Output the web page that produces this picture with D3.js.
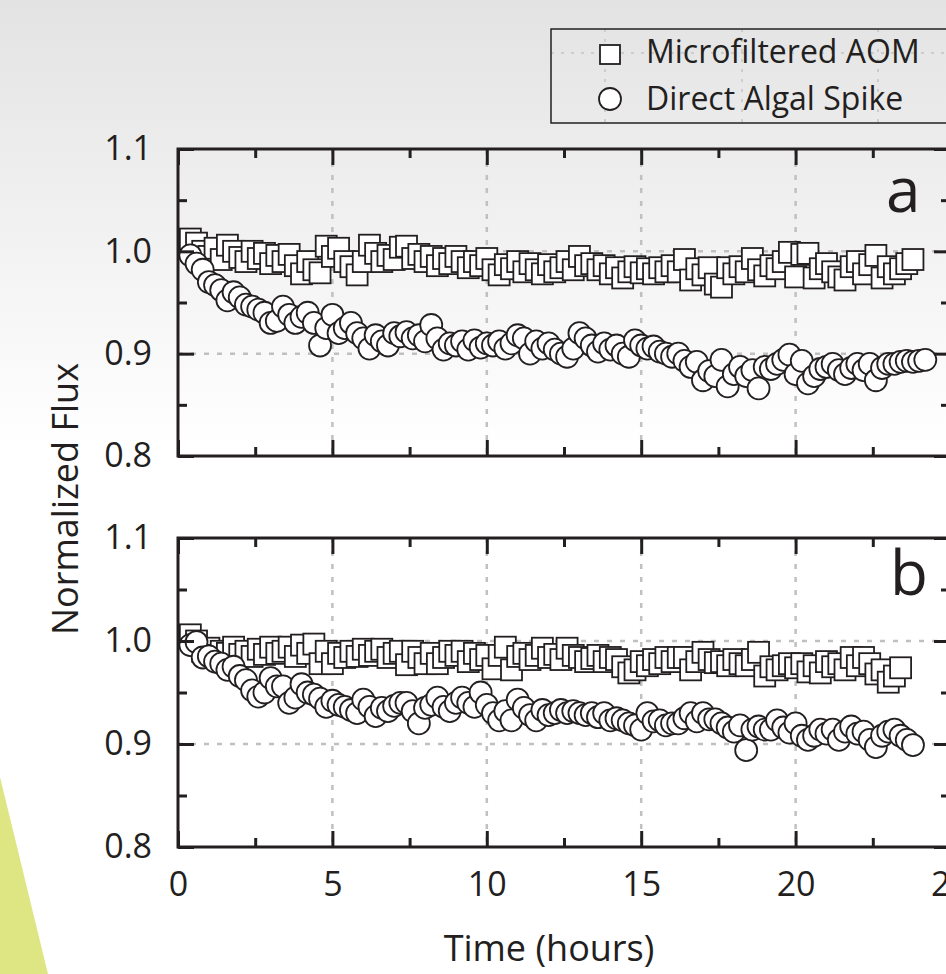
<!DOCTYPE html>
<html lang="en">
<head>
  <meta charset="utf-8">
  <title>Normalized Flux</title>
  <script src="https://cdn.jsdelivr.net/npm/d3@7/dist/d3.min.js"></script>
  <style>
    html, body { margin: 0; padding: 0; overflow: hidden; background: #fff; }
    svg { display: block; font-family: "Open Sans", sans-serif; }
  </style>
</head>
<body>
<script>
  // sampling times (hours), one reading every 12 min
  var hours = [0.4,0.6,0.8,1,1.2, 1.4,1.6,1.8,2,2.2, 2.4,2.6,2.8,3,3.2, 3.4,3.6,3.8,4,4.2,
    4.4,4.6,4.8,5,5.2, 5.4,5.6,5.8,6,6.2, 6.4,6.6,6.8,7,7.2, 7.4,7.6,7.8,8,8.2,
    8.4,8.6,8.8,9,9.2, 9.4,9.6,9.8,10,10.2, 10.4,10.6,10.8,11,11.2, 11.4,11.6,11.8,12,12.2,
    12.4,12.6,12.8,13,13.2, 13.4,13.6,13.8,14,14.2, 14.4,14.6,14.8,15,15.2, 15.4,15.6,15.8,16,16.2,
    16.4,16.6,16.8,17,17.2, 17.4,17.6,17.8,18,18.2, 18.4,18.6,18.8,19,19.2, 19.4,19.6,19.8,20,20.2,
    20.4,20.6,20.8,21,21.2, 21.4,21.6,21.8,22,22.2, 22.4,22.6,22.8,23,23.2, 23.4,23.6,23.8,24,24.2];

  // panel a
  var squaresA = [1.012,1.008,1.0,0.995,1.003, 0.992,1.006,1.0,0.994,0.99, 1.0,0.993,0.998,0.988,0.996,
    0.99,0.997,0.986,0.978,0.99, 0.982,0.979,1.005,0.995,1.003, 0.99,0.985,0.977,0.99,1.006,
    0.998,0.99,0.996,0.992,1.004, 1.005,0.993,0.997,0.99,0.995, 0.986,0.993,0.988,0.995,0.99,
    0.984,0.99,0.986,0.993,0.982, 0.977,0.987,0.983,0.99,0.98, 0.988,0.982,0.978,0.987,0.98,
    0.984,0.99,0.982,0.995,0.986, 0.988,0.982,0.986,0.978,0.984, 0.974,0.98,0.985,0.979,0.983,
    0.978,0.984,0.98,0.986,0.98, 0.992,0.972,0.983,0.977,0.984, 0.968,0.965,0.984,0.978,0.985,
    0.98,0.993,0.982,0.976,0.986, 0.983,0.99,0.999,0.975,0.997, 0.998,0.974,0.983,0.988,0.98,
    0.975,0.972,0.985,0.99,0.978, 0.987,0.996,0.974,0.985,0.978, 0.983,0.988,0.992];
  var circlesA = [0.996,0.988,0.982,0.97,0.967, 0.962,0.952,0.96,0.955,0.948, 0.946,0.943,0.94,0.93,0.932,
    0.946,0.938,0.93,0.936,0.94, 0.93,0.908,0.925,0.938,0.92, 0.925,0.93,0.92,0.915,0.905,
    0.918,0.912,0.908,0.92,0.917, 0.921,0.915,0.918,0.912,0.928, 0.915,0.904,0.91,0.908,0.912,
    0.904,0.913,0.906,0.91,0.908, 0.912,0.905,0.91,0.918,0.915, 0.9,0.912,0.905,0.91,0.904,
    0.9,0.897,0.905,0.92,0.915, 0.908,0.902,0.91,0.904,0.908, 0.9,0.897,0.913,0.908,0.905,
    0.907,0.902,0.9,0.897,0.9, 0.893,0.887,0.892,0.874,0.883, 0.878,0.894,0.868,0.88,0.887,
    0.878,0.884,0.866,0.887,0.885, 0.89,0.894,0.899,0.88,0.893, 0.871,0.878,0.885,0.887,0.89,
    0.884,0.88,0.886,0.89,0.884, 0.89,0.874,0.886,0.89,0.89, 0.892,0.893,0.892,0.893,0.894];

  // panel b
  var squaresB = [1.006,1.0,0.99,0.993,0.986, 0.99,0.988,0.994,0.987,0.99, 0.985,0.992,0.987,0.994,0.988,
    0.99,0.994,0.985,0.996,0.988, 0.997,0.978,0.99,0.978,0.988, 0.984,0.99,0.985,0.992,0.986,
    0.99,0.992,0.984,0.988,0.99, 0.977,0.99,0.984,0.978,0.988, 0.978,0.984,0.99,0.986,0.99,
    0.98,0.988,0.982,0.986,0.973, 0.986,0.994,0.972,0.985,0.988, 0.982,0.986,0.993,0.984,0.987,
    0.982,0.993,0.986,0.984,0.98, 0.983,0.986,0.98,0.984,0.982, 0.975,0.969,0.972,0.98,0.976,
    0.982,0.978,0.984,0.98,0.984, 0.984,0.972,0.98,0.989,0.982, 0.979,0.98,0.976,0.982,0.978,
    0.976,0.982,0.989,0.966,0.975, 0.972,0.976,0.978,0.974,0.978, 0.97,0.976,0.969,0.98,0.975,
    0.978,0.972,0.984,0.976,0.984, 0.978,0.968,0.972,0.96,0.966, 0.974];
  var circlesB = [0.996,0.999,0.984,0.985,0.98, 0.978,0.972,0.975,0.966,0.962, 0.952,0.946,0.95,0.964,0.956,
    0.956,0.94,0.945,0.958,0.95, 0.948,0.944,0.936,0.942,0.938, 0.936,0.933,0.93,0.943,0.936,
    0.927,0.935,0.932,0.937,0.94, 0.94,0.932,0.92,0.935,0.938, 0.945,0.936,0.932,0.94,0.945,
    0.94,0.936,0.95,0.938,0.93, 0.923,0.932,0.923,0.943,0.935, 0.928,0.923,0.933,0.928,0.93,
    0.933,0.93,0.932,0.93,0.928, 0.93,0.926,0.93,0.923,0.925, 0.923,0.92,0.918,0.914,0.93,
    0.922,0.923,0.918,0.92,0.92, 0.925,0.93,0.922,0.93,0.924, 0.924,0.92,0.916,0.912,0.918,
    0.894,0.914,0.917,0.914,0.914, 0.923,0.916,0.911,0.92,0.908, 0.904,0.908,0.914,0.91,0.914,
    0.904,0.912,0.917,0.91,0.912, 0.904,0.897,0.908,0.912,0.914, 0.908,0.904,0.899];

  var xMajor = [0, 5, 10, 15, 20, 25];
  var xMinor = [2.5, 7.5, 12.5, 17.5, 22.5];
  var yMajor = [0.8, 0.9, 1.0, 1.1];
  var yMinor = [0.85, 0.95, 1.05];
  var legendLabels = ["Microfiltered AOM", "Direct Algal Spike"];

  var width = 946;
  var height = 974;
  var ink = "#231f20";

  var svg = d3.select("body")
    .append("svg")
    .attr("width", width)
    .attr("height", height);

  // page background: grey fading to white, plus the green wedge
  var grad = svg.append("defs").append("linearGradient")
    .attr("id", "bg")
    .attr("x1", 0).attr("y1", 0).attr("x2", 0).attr("y2", 1);
  grad.append("stop").attr("offset", "0").attr("stop-color", "#e3e3e3");
  grad.append("stop").attr("offset", "0.46").attr("stop-color", "#ffffff");
  grad.append("stop").attr("offset", "1").attr("stop-color", "#ffffff");
  svg.append("rect").attr("width", width).attr("height", height).attr("fill", "url(#bg)");
  svg.append("path")
    .attr("d", "M0,777L48,974L0,974Z")
    .attr("fill", "#dee683");

  var x = d3.scaleLinear().domain([0, 25]).range([178, 950]);

  var panels = [
    { top: 149, bottom: 456, squares: squaresA, circles: circlesA, letter: "a", lx: 886, ly: 212, labels: false },
    { top: 538, bottom: 847, squares: squaresB, circles: circlesB, letter: "b", lx: 890, ly: 595, labels: true }
  ];

  panels.forEach(function(p) {
    var y = d3.scaleLinear().domain([0.8, 1.1]).range([p.bottom, p.top]);
    var g = svg.append("g");

    // dashed grid
    g.selectAll(".vgrid")
      .data([5, 10, 15, 20])
      .enter().append("line")
      .attr("x1", function(d) { return x(d); })
      .attr("x2", function(d) { return x(d); })
      .attr("y1", p.top).attr("y2", p.bottom)
      .attr("stroke", "#c0c0c0").attr("stroke-width", 2.5)
      .attr("stroke-dasharray", "5,8");
    g.selectAll(".hgrid")
      .data([0.9, 1.0])
      .enter().append("line")
      .attr("x1", x(0)).attr("x2", x(25))
      .attr("y1", function(d) { return y(d); })
      .attr("y2", function(d) { return y(d); })
      .attr("stroke", "#c0c0c0").attr("stroke-width", 2.5)
      .attr("stroke-dasharray", "5,8");

    // panel letter
    g.append("text")
      .attr("x", p.lx).attr("y", p.ly)
      .attr("font-size", 62)
      .attr("fill", ink)
      .text(p.letter);

    // squares
    g.selectAll(".sq")
      .data(p.squares)
      .enter().append("rect")
      .attr("x", function(d, i) { return x(hours[i]) - 10.5; })
      .attr("y", function(d) { return y(d) - 10.5; })
      .attr("width", 21).attr("height", 21)
      .attr("fill", "#fff").attr("stroke", ink).attr("stroke-width", 1.8);

    // circles
    g.selectAll(".ci")
      .data(p.circles)
      .enter().append("circle")
      .attr("cx", function(d, i) { return x(hours[i]); })
      .attr("cy", function(d) { return y(d); })
      .attr("r", 11)
      .attr("fill", "#fff").attr("stroke", ink).attr("stroke-width", 1.8);

    // axes, ticks pointing inward
    function styleAxis(sel) {
      sel.select(".domain").remove();
      sel.selectAll(".tick line").attr("stroke", ink).attr("stroke-width", 3);
      sel.selectAll(".tick text").attr("fill", ink).attr("font-size", 34)
        .attr("font-family", "Open Sans, sans-serif");
    }

    g.append("g").attr("transform", "translate(" + x(0) + ",0)")
      .call(d3.axisLeft(y).tickValues(yMajor).tickSize(-16).tickPadding(26)
        .tickFormat(d3.format(".1f")))
      .call(styleAxis);
    g.append("g").attr("transform", "translate(" + x(0) + ",0)")
      .call(d3.axisLeft(y).tickValues(yMinor).tickSize(-9).tickFormat(""))
      .call(styleAxis);
    g.append("g").attr("transform", "translate(" + x(25) + ",0)")
      .call(d3.axisRight(y).tickValues(yMajor).tickSize(-16).tickFormat(""))
      .call(styleAxis);
    g.append("g").attr("transform", "translate(" + x(25) + ",0)")
      .call(d3.axisRight(y).tickValues(yMinor).tickSize(-9).tickFormat(""))
      .call(styleAxis);
    g.append("g").attr("transform", "translate(0," + p.top + ")")
      .call(d3.axisTop(x).tickValues(xMajor).tickSize(-16).tickFormat(""))
      .call(styleAxis);
    g.append("g").attr("transform", "translate(0," + p.top + ")")
      .call(d3.axisTop(x).tickValues(xMinor).tickSize(-9).tickFormat(""))
      .call(styleAxis);
    g.append("g").attr("transform", "translate(0," + p.bottom + ")")
      .call(d3.axisBottom(x).tickValues(xMajor).tickSize(-16).tickPadding(25)
        .tickFormat(p.labels ? d3.format("d") : ""))
      .call(styleAxis);
    g.append("g").attr("transform", "translate(0," + p.bottom + ")")
      .call(d3.axisBottom(x).tickValues(xMinor).tickSize(-9).tickFormat(""))
      .call(styleAxis);

    // frame
    g.append("rect")
      .attr("x", x(0)).attr("y", p.top)
      .attr("width", x(25) - x(0)).attr("height", p.bottom - p.top)
      .attr("fill", "none").attr("stroke", ink).attr("stroke-width", 3);
  });

  // axis titles
  svg.append("text")
    .attr("transform", "translate(78,499) rotate(-90)")
    .attr("text-anchor", "middle")
    .attr("font-size", 36)
    .attr("fill", ink)
    .text("Normalized Flux");
  svg.append("text")
    .attr("x", 549).attr("y", 961)
    .attr("text-anchor", "middle")
    .attr("font-size", 36)
    .attr("fill", ink)
    .text("Time (hours)");

  // legend
  var lg = svg.append("g");
  [605, 742, 878].forEach(function(gx) {
    lg.append("line")
      .attr("x1", gx).attr("x2", gx).attr("y1", 29).attr("y2", 123)
      .attr("stroke", "#c4c4c4").attr("stroke-width", 1.5).attr("stroke-dasharray", "3,7");
  });
  lg.append("line")
    .attr("x1", 551).attr("x2", width).attr("y1", 53).attr("y2", 53)
    .attr("stroke", "#c4c4c4").attr("stroke-width", 1.5).attr("stroke-dasharray", "3,7");
  lg.append("rect")
    .attr("x", 551).attr("y", 29).attr("width", 450).attr("height", 94)
    .attr("fill", "none").attr("stroke", ink).attr("stroke-width", 1.5);
  lg.append("rect")
    .attr("x", 600).attr("y", 45).attr("width", 20).attr("height", 19)
    .attr("fill", "#fff").attr("stroke", ink).attr("stroke-width", 1.8);
  lg.append("circle")
    .attr("cx", 610).attr("cy", 99).attr("r", 11)
    .attr("fill", "#fff").attr("stroke", ink).attr("stroke-width", 1.8);
  lg.selectAll(".lt")
    .data(legendLabels)
    .enter().append("text")
    .attr("x", 646)
    .attr("y", function(d, i) { return i === 0 ? 63 : 110; })
    .attr("font-size", 32)
    .attr("fill", ink)
    .text(function(d) { return d; });
</script>
</body>
</html>
